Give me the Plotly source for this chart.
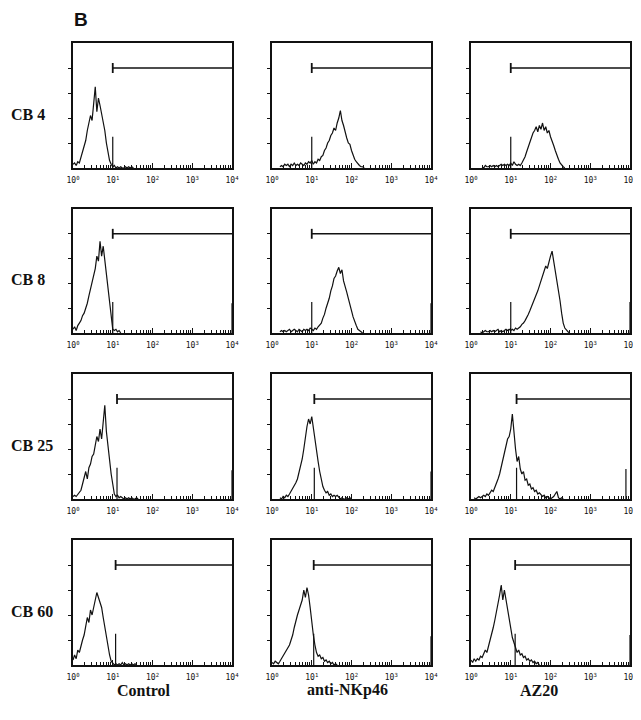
import plotly.graph_objects as go

# ---------------- data ----------------
ROW_LABELS = ["CB 4", "CB 8", "CB 25", "CB 60"]
COL_LABELS = ["Control", "anti-NKp46", "AZ20"]
DECADE_TICKS = [1, 10, 100, 1000, 10000]
DECADE_LABELS = ["10<sup>0</sup>", "10<sup>1</sup>", "10<sup>2</sup>", "10<sup>3</sup>", "10<sup>4</sup>"]
MINOR_TICKS = [m * 10 ** d for d in range(4) for m in range(2, 10)]
LOG_STEP = 0.04  # bin width in decades

# histogram counts (0-100 scale), each with its first bin position (decades)
cb4_control_start = 0.00
cb4_control = [3, 4, 2, 5, 4, 9, 12, 18, 22, 30, 35, 42, 38, 50, 65, 45, 56, 50, 44, 36,
               30, 20, 12, 6, 3, 1, 2, 0, 1, 0, 1, 0, 0, 1, 0, 1, 0, 1, 0]
cb4_nkp46_start = 0.20
cb4_nkp46 = [1, 2, 1, 3, 2, 3, 1, 3, 2, 4, 2, 3, 2, 4, 3, 2, 4, 3, 5, 4, 6, 3, 5, 4, 7,
             6, 9, 10, 14, 16, 20, 22, 26, 28, 32, 30, 36, 40, 46, 38, 34, 28, 24, 20,
             19, 14, 10, 7, 5, 3, 2, 1, 1, 0]
cb4_az20_start = 0.28
cb4_az20 = [1, 0, 2, 1, 1, 2, 1, 2, 1, 2, 1, 2, 3, 2, 3, 2, 3, 2, 4, 2, 5, 3, 2, 3, 2,
            4, 6, 9, 13, 17, 21, 24, 28, 30, 33, 29, 34, 31, 36, 30, 33, 28, 30, 25,
            22, 18, 14, 10, 7, 4, 2, 1, 0]

cb8_control_start = 0.00
cb8_control = [3, 5, 2, 6, 8, 10, 14, 16, 20, 24, 30, 36, 40, 47, 52, 62, 58, 74, 62, 70,
               58, 48, 36, 24, 10, 3, 2, 3, 1, 2, 0]
cb8_nkp46_start = 0.20
cb8_nkp46 = [1, 2, 1, 2, 1, 2, 3, 1, 2, 3, 2, 1, 3, 2, 1, 3, 2, 3, 2, 4, 3, 2, 4, 3, 5,
             7, 8, 12, 15, 20, 24, 28, 34, 38, 44, 46, 50, 53, 48, 51, 42, 38, 33, 28,
             22, 18, 13, 9, 6, 3, 2, 1, 0]
cb8_az20_start = 0.24
cb8_az20 = [1, 0, 1, 2, 1, 1, 2, 1, 2, 1, 2, 3, 1, 2, 1, 2, 3, 2, 3, 2, 3, 2, 4, 3, 4,
            5, 7, 8, 10, 12, 15, 18, 21, 24, 28, 31, 34, 38, 42, 46, 50, 54, 52, 58,
            62, 66, 58, 50, 44, 36, 26, 16, 8, 4, 2, 1, 0]

cb25_control_start = 0.00
cb25_control = [2, 3, 2, 4, 5, 7, 12, 18, 22, 16, 25, 28, 34, 36, 42, 50, 46, 56, 48, 62,
                75, 54, 42, 30, 20, 12, 4, 2, 3, 1, 2, 1, 0, 1, 0, 1, 0, 1, 0, 0, 1, 0]
cb25_nkp46_start = 0.20
cb25_nkp46 = [1, 0, 2, 1, 3, 2, 4, 6, 8, 10, 13, 16, 21, 26, 32, 40, 50, 58, 64, 60,
              66, 56, 48, 38, 30, 22, 15, 10, 7, 5, 6, 3, 4, 2, 3, 2, 3, 1, 0, 1, 0, 0,
              1, 0, 1, 0]
cb25_az20_start = 0.08
cb25_az20 = [1, 0, 1, 2, 1, 2, 3, 2, 4, 3, 5, 7, 6, 9, 12, 16, 20, 26, 32, 38, 42, 48,
             50, 56, 68, 52, 40, 30, 34, 24, 20, 22, 15, 16, 11, 12, 8, 9, 6, 7, 4, 5,
             3, 2, 3, 1, 2, 1, 0, 1, 2, 4, 6, 1, 0, 1, 0]

cb60_control_start = 0.00
cb60_control = [4, 8, 5, 12, 10, 16, 20, 24, 30, 38, 34, 44, 40, 46, 52, 58, 54, 50, 46,
                38, 30, 24, 16, 8, 3, 1, 0, 1, 0, 1, 0, 2, 0, 1, 0, 1, 0, 1, 0, 1, 0]
cb60_nkp46_start = 0.00
cb60_nkp46 = [2, 1, 3, 2, 1, 3, 5, 8, 10, 12, 14, 16, 20, 24, 30, 36, 40, 44, 48, 52, 60,
              54, 62, 56, 46, 34, 24, 16, 10, 7, 8, 5, 6, 3, 4, 2, 3, 1, 2, 0, 1, 0]
cb60_az20_start = 0.00
cb60_az20 = [4, 2, 5, 3, 5, 4, 7, 6, 9, 12, 10, 15, 18, 24, 30, 36, 42, 48, 56, 64, 52,
             60, 52, 44, 36, 30, 22, 18, 14, 10, 12, 8, 9, 6, 7, 4, 5, 3, 4, 2, 3, 1, 2, 0]

HISTS = [
    [(cb4_control_start, cb4_control), (cb4_nkp46_start, cb4_nkp46), (cb4_az20_start, cb4_az20)],
    [(cb8_control_start, cb8_control), (cb8_nkp46_start, cb8_nkp46), (cb8_az20_start, cb8_az20)],
    [(cb25_control_start, cb25_control), (cb25_nkp46_start, cb25_nkp46), (cb25_az20_start, cb25_az20)],
    [(cb60_control_start, cb60_control), (cb60_nkp46_start, cb60_nkp46), (cb60_az20_start, cb60_az20)],
]

# gate (marker) start channel per panel, gate level and marker height
GATE_START = [[10, 10, 10], [10, 10, 10], [12.8, 11.6, 14.0], [11.8, 11.2, 12.9]]
GATE_LEVEL = 80
MARKER_HEIGHT = 25
# off-scale events piled in the last channel
OFFSCALE_COUNT = [[0, 0, 0], [24, 24, 25], [23, 22, 24], [0, 23, 24]]
OFFSCALE_POS = [[10000, 10000, 10000], [10000, 10000, 10000],
                [10000, 10000, 7900], [10000, 10000, 10000]]

# ---------------- layout geometry (target pixels in the 641x720 window) ----------------
PAGE_MARGIN = 8               # default <body> margin of the html page
W = 641 - PAGE_MARGIN
H = 720 - 2 * PAGE_MARGIN
COL_PX = [(73, 232), (272, 431), (471, 630)]
ROW_PX = [(43, 168), (209, 333), (374, 499), (540, 665)]


def px_x(x):
    return (x - PAGE_MARGIN) / W


def px_y(y):
    return 1 - (y - PAGE_MARGIN) / H


fig = go.Figure()
layout = dict(template="none", width=W, height=H, margin=dict(l=0, r=0, t=0, b=0, pad=0),
              autosize=False, paper_bgcolor="white", plot_bgcolor="white", showlegend=False)

BLACK = "#111111"
idx = 0
for r in range(4):
    for c in range(3):
        idx += 1
        xa = "x" if idx == 1 else f"x{idx}"
        ya = "y" if idx == 1 else f"y{idx}"
        xkey = "xaxis" if idx == 1 else f"xaxis{idx}"
        ykey = "yaxis" if idx == 1 else f"yaxis{idx}"
        x0, x1 = COL_PX[c]
        y0, y1 = ROW_PX[r]
        layout[xkey] = dict(
            domain=[px_x(x0), px_x(x1)], anchor=ya, type="log", range=[0, 4],
            automargin=False,
            showgrid=False, zeroline=False, showline=True, mirror=True,
            linecolor=BLACK, linewidth=1.5,
            tickmode="array", tickvals=DECADE_TICKS, ticktext=DECADE_LABELS,
            ticks="inside", ticklen=5, tickwidth=1, tickcolor=BLACK,
            ticklabelstandoff=4,
            tickfont=dict(family="DejaVu Sans Mono", size=8, color=BLACK),
            minor=dict(tickmode="array", tickvals=MINOR_TICKS, ticks="inside",
                       ticklen=3, tickwidth=1, tickcolor=BLACK, showgrid=False),
        )
        layout[ykey] = dict(
            domain=[px_y(y1), px_y(y0)], anchor=xa, range=[0, 100],
            automargin=False,
            showgrid=False, zeroline=False, showline=True, mirror=True,
            linecolor=BLACK, linewidth=1.5,
            tickmode="array", tickvals=[20, 40, 60, 80], ticks="outside",
            ticklen=3, tickwidth=1, tickcolor=BLACK, showticklabels=False,
        )
        start, counts = HISTS[r][c]
        xs = [10 ** (start + i * LOG_STEP) for i in range(len(counts))]
        fig.add_trace(go.Scatter(x=xs, y=counts, mode="lines", xaxis=xa, yaxis=ya,
                                 line=dict(color=BLACK, width=1.2), hoverinfo="skip"))
        g = GATE_START[r][c]
        # gate bar
        fig.add_trace(go.Scatter(x=[g, 10000], y=[GATE_LEVEL, GATE_LEVEL], mode="lines",
                                 xaxis=xa, yaxis=ya, line=dict(color=BLACK, width=1.5)))
        fig.add_trace(go.Scatter(x=[g, g], y=[GATE_LEVEL - 4, GATE_LEVEL + 4], mode="lines",
                                 xaxis=xa, yaxis=ya, line=dict(color=BLACK, width=1.8)))
        # marker line at gate start
        fig.add_trace(go.Scatter(x=[g, g], y=[0, MARKER_HEIGHT], mode="lines",
                                 xaxis=xa, yaxis=ya, line=dict(color=BLACK, width=1.2)))
        # off-scale pile-up
        if OFFSCALE_COUNT[r][c] > 0:
            p = OFFSCALE_POS[r][c]
            fig.add_trace(go.Scatter(x=[p, p], y=[0, OFFSCALE_COUNT[r][c]], mode="lines",
                                     xaxis=xa, yaxis=ya, line=dict(color=BLACK, width=1.2)))

annotations = []
LABEL_FONT = dict(family="Liberation Serif", size=16, color=BLACK)
for r, lab in enumerate(ROW_LABELS):
    y0, y1 = ROW_PX[r]
    yc = y0 + 0.57 * (y1 - y0)
    annotations.append(dict(text=f"<b>{lab}</b>", x=px_x(9), y=px_y(yc), xref="paper",
                            yref="paper", xanchor="left", yanchor="middle",
                            showarrow=False, font=LABEL_FONT))
for c, lab in enumerate(COL_LABELS):
    xc = [144, 347, 539][c]
    annotations.append(dict(text=f"<b>{lab}</b>", x=px_x(xc), y=px_y(690), xref="paper",
                            yref="paper", xanchor="center", yanchor="middle",
                            showarrow=False, font=LABEL_FONT))
annotations.append(dict(text="<b>B</b>", x=px_x(73), y=1, xref="paper", yref="paper",
                        xanchor="left", yanchor="top", showarrow=False, borderpad=0,
                        font=dict(family="Liberation Sans", size=19, color=BLACK)))
layout["annotations"] = annotations
fig.update_layout(**layout)
fig.write_html("out.html")
